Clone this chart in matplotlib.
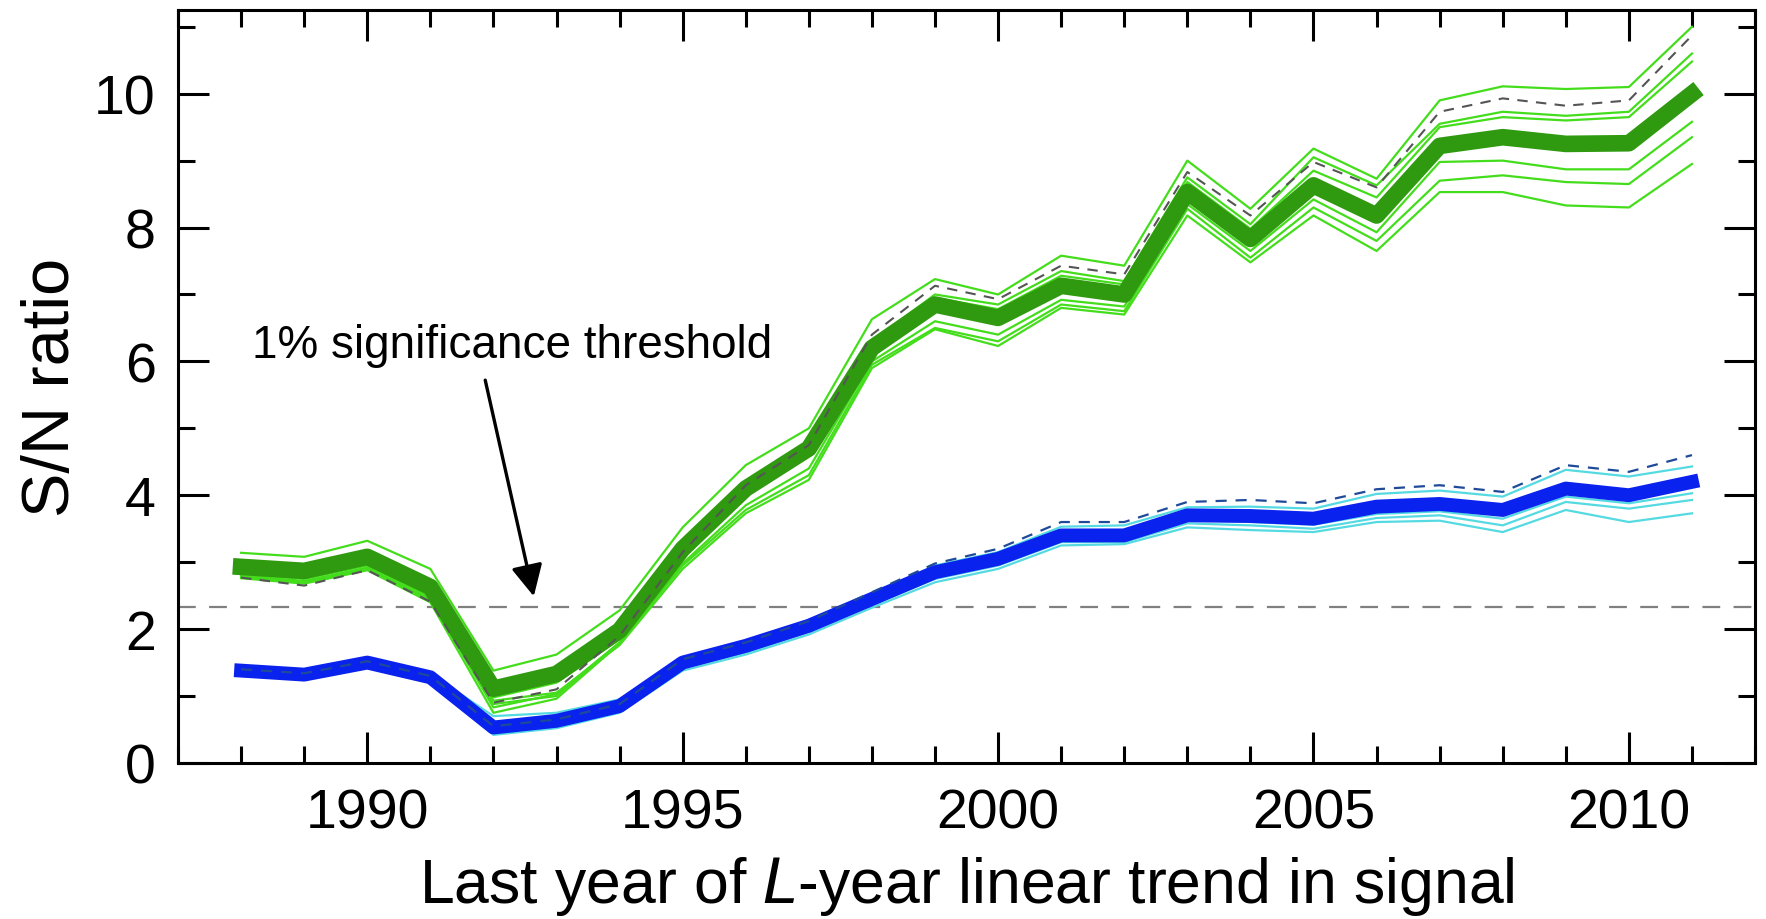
import numpy as np
import matplotlib.pyplot as plt
from matplotlib.ticker import MultipleLocator

plt.rcParams['font.family'] = ['Liberation Sans', 'DejaVu Sans']

# Years (last year of trend)
years = list(range(1988, 2012))

# Green: thick main line, dashed line, thin ensemble lines
green_main = [2.93, 2.87, 3.08, 2.63, 1.11, 1.33, 1.98, 3.20, 4.10, 4.70, 6.20, 6.85,
              6.65, 7.13, 7.00, 8.53, 7.83, 8.63, 8.18, 9.22, 9.35, 9.25, 9.26, 10.00]
green_dash = [2.77, 2.65, 2.88, 2.41, 0.90, 1.10, 1.90, 3.15, 4.15, 4.75, 6.40, 7.13,
              6.93, 7.43, 7.30, 8.83, 8.18, 8.98, 8.60, 9.73, 9.93, 9.82, 9.90, 10.87]
green_thin = [
    [3.14, 3.08, 3.32, 2.90, 1.38, 1.62, 2.28, 3.52, 4.45, 5.00, 6.63, 7.23,
     7.00, 7.58, 7.43, 9.00, 8.28, 9.18, 8.73, 9.90, 10.11, 10.07, 10.10, 11.00],
    [2.85, 2.78, 2.98, 2.50, 0.98, 1.20, 1.85, 3.05, 4.00, 4.60, 6.30, 7.00,
     6.85, 7.35, 7.20, 8.75, 8.05, 9.05, 8.63, 9.55, 9.73, 9.67, 9.73, 10.60],
    [2.80, 2.72, 2.92, 2.45, 0.83, 1.03, 1.80, 3.10, 4.05, 4.65, 6.25, 6.95,
     6.78, 7.28, 7.15, 8.68, 7.98, 8.85, 8.45, 9.50, 9.65, 9.60, 9.65, 10.48],
    [2.76, 2.68, 2.88, 2.40, 0.75, 0.96, 1.78, 2.98, 3.85, 4.40, 6.00, 6.60,
     6.40, 6.92, 6.82, 8.35, 7.65, 8.42, 7.93, 8.98, 9.00, 8.87, 8.87, 9.58],
    [2.78, 2.70, 2.90, 2.43, 0.88, 1.00, 1.80, 2.95, 3.78, 4.30, 5.95, 6.50,
     6.30, 6.85, 6.75, 8.28, 7.55, 8.30, 7.80, 8.70, 8.78, 8.68, 8.65, 9.35],
    [2.82, 2.75, 2.95, 2.48, 0.93, 1.05, 1.76, 2.90, 3.73, 4.23, 5.90, 6.48,
     6.23, 6.80, 6.70, 8.18, 7.48, 8.18, 7.65, 8.53, 8.53, 8.33, 8.30, 8.95],
]

# Blue: thick main line, dashed line, thin cyan lines
blue_main = [1.38, 1.32, 1.50, 1.28, 0.53, 0.63, 0.85, 1.50, 1.75, 2.05, 2.45, 2.85,
             3.05, 3.40, 3.40, 3.70, 3.69, 3.65, 3.83, 3.87, 3.78, 4.10, 4.00, 4.20]
blue_dash = [1.40, 1.34, 1.52, 1.30, 0.55, 0.65, 0.88, 1.55, 1.80, 2.12, 2.55, 2.98,
             3.20, 3.60, 3.60, 3.90, 3.93, 3.88, 4.09, 4.15, 4.05, 4.45, 4.35, 4.60]
blue_thin = [
    [1.43, 1.37, 1.56, 1.33, 0.70, 0.75, 0.95, 1.58, 1.82, 2.10, 2.52, 2.95,
     3.15, 3.53, 3.55, 3.82, 3.83, 3.80, 4.02, 4.07, 3.98, 4.38, 4.28, 4.43],
    [1.36, 1.29, 1.47, 1.25, 0.50, 0.60, 0.82, 1.46, 1.70, 2.00, 2.40, 2.80,
     3.00, 3.35, 3.35, 3.63, 3.60, 3.56, 3.72, 3.76, 3.65, 3.98, 3.88, 4.03],
    [1.34, 1.27, 1.45, 1.23, 0.45, 0.56, 0.78, 1.42, 1.65, 1.96, 2.36, 2.75,
     2.95, 3.30, 3.30, 3.58, 3.55, 3.50, 3.66, 3.70, 3.55, 3.90, 3.80, 3.93],
    [1.32, 1.25, 1.43, 1.20, 0.42, 0.52, 0.75, 1.38, 1.62, 1.92, 2.32, 2.70,
     2.90, 3.25, 3.27, 3.52, 3.48, 3.45, 3.60, 3.62, 3.45, 3.78, 3.60, 3.73],
]

threshold = 2.33

fig = plt.figure(figsize=(17.66, 9.2), dpi=100)
ax = fig.add_axes([0.1008, 0.1696, 0.893, 0.8184])

# significance threshold
ax.axhline(threshold, color='#808080', lw=1.6, dashes=(8, 6), zorder=1)

# green ensemble
for g in green_thin:
    ax.plot(years, g, color='#44dd1c', lw=1.6, zorder=2)
ax.plot(years, green_main, color='#2f9a10', lw=12, zorder=3)
ax.plot(years, green_dash, color='#555555', lw=1.5, dashes=(5, 4), zorder=4)

# blue ensemble
for b in blue_thin:
    ax.plot(years, b, color='#55dae2', lw=1.6, zorder=2)
ax.plot(years, blue_main, color='#0a22ee', lw=10, zorder=3)
ax.plot(years, blue_dash, color='#1f4a9a', lw=1.6, dashes=(5, 4), zorder=4)

# annotation
ax.text(1992.3, 6.25, '1% significance threshold', ha='center', va='center', fontsize=33)
ax.annotate('', xy=(1992.64, 2.49), xytext=(1991.87, 5.72),
            arrowprops=dict(arrowstyle='-|>', color='black', lw=2.4,
                            mutation_scale=48, shrinkA=0, shrinkB=0))

ax.set_xlim(1987, 2012)
ax.set_ylim(0, 11.25)
ax.xaxis.set_major_locator(MultipleLocator(5))
ax.xaxis.set_minor_locator(MultipleLocator(1))
ax.yaxis.set_major_locator(MultipleLocator(2))
ax.yaxis.set_minor_locator(MultipleLocator(1))
ax.tick_params(which='both', direction='in', top=True, right=True, width=2.2,
               labelsize=40, colors='black')
ax.tick_params(which='major', length=22)
ax.tick_params(which='minor', length=12)
ax.tick_params(axis='y', pad=16)
ax.tick_params(axis='x', pad=18)
for s in ax.spines.values():
    s.set_linewidth(2.2)

ax.set_xlabel('Last year of $\\mathit{L}$-year linear trend in signal', fontsize=45, labelpad=10)
ax.set_ylabel('S/N ratio', fontsize=48, labelpad=8)

fig.savefig('out.png', dpi=100, facecolor='white')
